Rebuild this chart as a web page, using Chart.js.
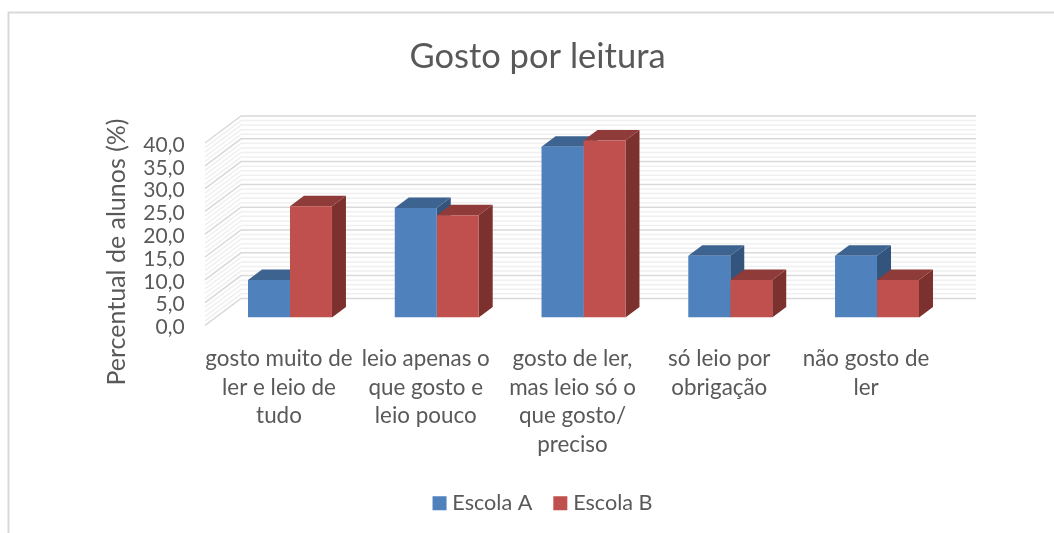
<!DOCTYPE html>
<html><head><meta charset="utf-8">
<style>html,body{margin:0;padding:0;background:#fff}#w{position:relative;width:1054px;height:533px}</style>
<script src="https://cdn.jsdelivr.net/npm/chart.js@4"></script>
</head><body><div id="w"><canvas id="c"></canvas></div>
<script>
const categories = [
  ['gosto muito de','ler e leio de','tudo'],
  ['leio apenas o','que gosto e','leio pouco'],
  ['gosto de ler,','mas leio só o','que gosto/','preciso'],
  ['só leio por','obrigação'],
  ['não gosto de','ler']
];
const escolaA = [8.2, 24.0, 37.4, 13.5, 13.5];
const escolaB = [24.4, 22.4, 38.8, 8.2, 8.2];
const seriesNames = ['Escola A','Escola B'];
const chartTitle = 'Gosto por leitura';
const yTitle = 'Percentual de alunos (%)';
const FONT = 'Lato, "Open Sans", sans-serif';
const TXT = '#595959';
const front = ['#4F81BD','#C0504D'];
const top3d = ['#3D6390','#8E3B39'];
const side3d = ['#33547C','#7C312F'];

const threeD = {
  id:'threeD',
  afterLayout(chart){
    const l = chart.legend; l.left += 7.5; l.right += 7.5;
  },
  beforeDraw(chart){
    const c = chart.ctx;
    c.save();
    c.fillStyle='#fff'; c.fillRect(0,0,chart.width,chart.height);
    c.strokeStyle='#D9D9D9'; c.lineWidth=2;
    c.beginPath(); c.moveTo(8.5,533); c.lineTo(8.5,12.5); c.lineTo(1054,12.5); c.stroke();
    c.restore();
  },
  beforeDatasetsDraw(chart){
    const c = chart.ctx, y = chart.scales.y, a = chart.chartArea;
    const backL = a.left + 24.4, backR = a.right + 25.6, frontL = a.left - 11.6;
    c.save();
    for (let pass=0; pass<2; pass++){
      for (let v=0; v<=40; v++){
        const major = v%5===0;
        if (major !== (pass===1)) continue;
        const p = y.getPixelForValue(v);
        c.strokeStyle = major ? '#D9D9D9' : '#F0F0F0';
        c.lineWidth = 1.5;
        c.beginPath();
        c.moveTo(frontL, p+8); c.lineTo(backL, p-19); c.lineTo(backR, p-19);
        c.stroke();
      }
    }
    const dx=14, dy=10.5;
    chart.data.datasets.forEach((ds,i)=>{
      chart.getDatasetMeta(i).data.forEach(b=>{
        const L=b.x-b.width/2, R=b.x+b.width/2, T=b.y, B=b.base;
        c.fillStyle=side3d[i];
        c.beginPath(); c.moveTo(R,T); c.lineTo(R+dx,T-dy); c.lineTo(R+dx,B-dy); c.lineTo(R,B); c.closePath(); c.fill();
        c.fillStyle=top3d[i];
        c.beginPath(); c.moveTo(L,T); c.lineTo(L+dx,T-dy); c.lineTo(R+dx,T-dy); c.lineTo(R,T); c.closePath(); c.fill();
      });
    });
    c.restore();
  },
  afterDraw(chart){
    const c = chart.ctx;
    c.save();
    c.fillStyle=TXT; c.font='25px '+FONT; c.textAlign='center'; c.textBaseline='middle';
    c.translate(117,252); c.rotate(-Math.PI/2); c.fillText(yTitle,0,0);
    c.restore();
  }
};

new Chart(document.getElementById('c'),{
  type:'bar',
  data:{labels:categories,datasets:[
    {label:seriesNames[0],data:escolaA,backgroundColor:front[0]},
    {label:seriesNames[1],data:escolaB,backgroundColor:front[1]}
  ]},
  options:{
    responsive:true,maintainAspectRatio:false,animation:false,
    layout:{padding:{left:124.6,right:103.6,top:0,bottom:9}},
    datasets:{bar:{categoryPercentage:0.572,barPercentage:1}},
    plugins:{
      title:{display:true,text:chartTitle,color:TXT,font:{family:FONT,size:34.5,weight:'normal',lineHeight:1.2},padding:{top:36.3,bottom:57.3}},
      legend:{position:'bottom',labels:{color:TXT,font:{family:FONT,size:21.6},boxWidth:4,boxHeight:4,padding:26,
        generateLabels(chart){
          return Chart.defaults.plugins.legend.labels.generateLabels(chart).map(it=>({...it,lineWidth:10,strokeStyle:it.fillStyle}));
        }}},
      tooltip:{enabled:false}
    },
    scales:{
      x:{
        grid:{display:false},border:{display:false},
        afterFit(s){s.height=149;},
        ticks:{color:TXT,font:{family:FONT,size:22.4,lineHeight:1.28},padding:19,labelOffset:-11,autoSkip:false,maxRotation:0,minRotation:0}
      },
      y:{
        min:0,max:40,
        grid:{display:false,drawTicks:false},border:{display:false},
        afterFit(s){s.width=92;},
        ticks:{stepSize:5,autoSkip:false,color:TXT,font:{family:FONT,size:21},padding:32,labelOffset:10,
          callback:v=>v.toFixed(1).replace('.',',')}
      }
    }
  },
  plugins:[threeD]
});
</script></body></html>
